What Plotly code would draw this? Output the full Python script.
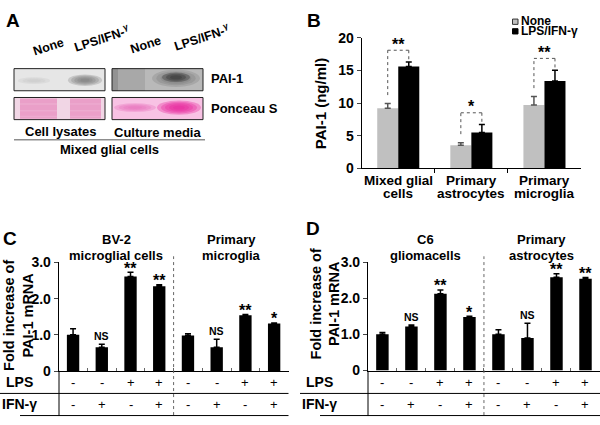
import plotly.graph_objects as go

W, H = 600, 425
FONT = "Liberation Sans, Arial, Helvetica, sans-serif"

# ---------------- data ----------------
# Panel B: PAI-1 secreted (ng/ml)
b_categories = ["Mixed glial\ncells", "Primary\nastrocytes", "Primary\nmicroglia"]
b_none = [9.2, 3.55, 9.7]
b_none_err = [0.73, 0.4, 1.3]
b_lps = [15.6, 5.5, 13.4]
b_lps_err = [0.7, 1.22, 1.65]
b_sig = ["**", "*", "**"]
b_yticks = [0, 5, 10, 15, 20]

# Panel C / D: fold increase of PAI-1 mRNA
lps_row = ["-", "-", "+", "+", "-", "-", "+", "+"]
ifn_row = ["-", "+", "-", "+", "-", "+", "-", "+"]
c_groups = ["BV-2\nmicroglial cells", "Primary\nmicroglia"]
c_vals = [1.0, 0.66, 2.61, 2.34, 0.98, 0.66, 1.54, 1.31]
c_err = [0.17, 0.08, 0.12, 0.04, 0.05, 0.22, 0.02, 0.02]
c_sig = ["", "NS", "**", "**", "", "NS", "**", "*"]
d_groups = ["C6\ngliomacells", "Primary\nastrocytes"]
d_vals = [1.0, 1.22, 2.12, 1.48, 1.0, 0.9, 2.58, 2.54]
d_err = [0.05, 0.04, 0.11, 0.02, 0.13, 0.41, 0.10, 0.03]
d_sig = ["", "NS", "**", "*", "", "NS", "**", "**"]
cd_yticks = [0, 1, 2, 3]
cd_yticktext = ["0", "1.0", "2.0", "3.0"]

# ---------------- helpers ----------------
def px(x):
    return x / W

def py(y):
    return 1 - y / H

shapes = []
annos = []

def rect(x0, y0, x1, y1, fill, line=None, lw=1, op=1.0, kind="rect"):
    shapes.append(dict(type=kind, xref="paper", yref="paper",
                       x0=px(x0), x1=px(x1), y0=py(y1), y1=py(y0),
                       fillcolor=fill, opacity=op,
                       line=dict(color=line if line else "rgba(0,0,0,0)", width=lw if line else 0),
                       layer="above"))

def pline(x0, y0, x1, y1, color="black", width=1, dash="solid"):
    shapes.append(dict(type="line", xref="paper", yref="paper",
                       x0=px(x0), x1=px(x1), y0=py(y0), y1=py(y1),
                       line=dict(color=color, width=width, dash=dash)))

def text(x, y, t, size=13, bold=True, angle=0, xanchor="center", yanchor="middle",
         xref="paper", yref="paper", yshift=0, color="black"):
    annos.append(dict(x=px(x) if xref == "paper" else x,
                      y=py(y) if yref == "paper" else y,
                      xref=xref, yref=yref, text=t, showarrow=False,
                      textangle=angle, xanchor=xanchor, yanchor=yanchor, yshift=yshift,
                      font=dict(family=FONT, size=size, color=color,
                                weight="bold" if bold else "normal")))

def blob(x0, y0, x1, y1, color, steps=5, op=0.22):
    cx, cy = (x0 + x1) / 2, (y0 + y1) / 2
    hw, hh = (x1 - x0) / 2, (y1 - y0) / 2
    for k in range(steps):
        f = 1 - k / (steps + 0.5)
        rect(cx - hw * f, cy - hh * f, cx + hw * f, cy + hh * f, color, op=op, kind="circle")

fig = go.Figure()

# ---------------- Panel A (blot illustration) ----------------
text(13, 13, "A", size=19)
text(48, 41, "None", size=12.5, angle=-18)
text(101, 31, "LPS/IFN-<sup>γ</sup>", size=12.5, angle=-18)
text(145, 38, "None", size=12.5, angle=-18)
text(201, 30, "LPS/IFN-<sup>γ</sup>", size=12.5, angle=-18)

# PAI-1 cell lysates
rect(14, 63, 105, 86, "#e6e6e6")
blob(18, 72, 50, 79, "#c8c8c8", steps=3, op=0.35)
blob(68, 69, 102, 81, "#777777", steps=5, op=0.28)
rect(14, 63, 105, 86, "rgba(0,0,0,0)", line="#222", lw=1)
# PAI-1 culture media
rect(112, 63, 203, 86, "#b9b9b9")
rect(112, 63, 145, 86, "#a4a4a4", op=0.8)
rect(112, 63, 118, 86, "#8c8c8c", op=0.8)
blob(152, 64, 200, 82, "#6a6a6a", steps=5, op=0.22)
blob(162, 67, 190, 77, "#333333", steps=3, op=0.35)
rect(112, 63, 203, 86, "rgba(0,0,0,0)", line="#222", lw=1)
text(209, 73, "PAI-1", size=13, xanchor="left")

# Ponceau S cell lysates
rect(14, 93, 105, 116, "#f1d6e5")
rect(20, 94, 57, 115, "#ea9fc8")
rect(70, 94, 101, 115, "#ea9fc8")
for yy in (99, 106, 112):
    rect(20, yy, 57, yy + 1.5, "#f2c0dc", op=0.35)
    rect(70, yy, 101, yy + 1.5, "#f2c0dc", op=0.35)
rect(14, 93, 105, 116, "rgba(0,0,0,0)", line="#222", lw=1)
# Ponceau S culture media
rect(112, 93, 203, 116, "#f8c2e4")
blob(114, 99, 156, 108, "#e872bc", steps=4, op=0.35)
blob(157, 96, 201, 111, "#e8289e", steps=5, op=0.35)
rect(112, 93, 203, 116, "rgba(0,0,0,0)", line="#222", lw=1)
text(209, 104, "Ponceau S", size=13, xanchor="left")

text(61, 128, "Cell lysates", size=13)
text(158, 129, "Culture media", size=13)
pline(14, 137, 205, 137, color="#555", width=1)
text(110, 147, "Mixed glial cells", size=13)

# ---------------- Panel B ----------------
text(314, 13, "B", size=19)
bx = list(range(len(b_categories)))
bw = 0.2877
fig.add_trace(go.Bar(x=bx, y=b_none, width=bw, offset=-bw, marker=dict(color="#c0c0c0", line=dict(width=0)),
                     error_y=dict(type="data", array=b_none_err, arrayminus=[0] * 3, symmetric=False,
                                  color="#555", thickness=1.5, width=3),
                     xaxis="x", yaxis="y", name="None", showlegend=False))
fig.add_trace(go.Bar(x=bx, y=b_lps, width=bw, offset=0, marker=dict(color="black", line=dict(width=0)),
                     error_y=dict(type="data", array=b_lps_err, arrayminus=[0] * 3, symmetric=False,
                                  color="black", thickness=1.5, width=3),
                     xaxis="x", yaxis="y", name="LPS/IFN-γ", showlegend=False))
for i in bx:
    xl, xr = i - bw / 2, i + bw / 2
    top = max(b_none[i] + b_none_err[i], b_lps[i] + b_lps_err[i]) + 1.8
    lbot = b_none[i] + b_none_err[i] + 1.3
    rbot = b_lps[i] + b_lps_err[i] + 0.1
    for (x0, y0, x1, y1) in ((xl, lbot, xl, top), (xl, top, xr, top), (xr, top, xr, rbot)):
        shapes.append(dict(type="line", xref="x", yref="y", x0=x0, x1=x1, y0=y0, y1=y1,
                           line=dict(color="#555", width=1, dash="dot")))
    text(i, top, b_sig[i], size=16, xref="x", yref="y", yshift=6)
    for k, line in enumerate(b_categories[i].split("\n")):
        text(i, 179 + 14 * k, line, size=13.5, xref="x")
text(320, 100, "PAI-1 (ng/ml)", size=15, angle=-90)
# legend
rect(512.5, 11.5, 518, 17, "#c0c0c0", line="#333", lw=1)
text(519, 14, "None", size=12, xanchor="left")
rect(512.5, 21.5, 518, 27, "black", line="black", lw=1)
text(519, 24, "LPS/IFN-γ", size=12, xanchor="left")

# ---------------- Panels C and D ----------------
def cd_panel(letter, lpos, vals, errs, sigs, groups, xa, ya, ylab_x, ylab_y, x_left, x_right, line_x0, bot_x0):
    text(lpos[0], lpos[1], letter, size=19)
    xs = list(range(len(vals)))
    fig.add_trace(go.Bar(x=xs, y=vals, width=0.43, marker=dict(color="black", line=dict(width=0)),
                         error_y=dict(type="data", array=errs, arrayminus=[0] * len(errs), symmetric=False,
                                      color="black", thickness=1.5, width=3),
                         xaxis=xa, yaxis=ya, showlegend=False))
    for i in xs:
        if sigs[i]:
            ns = sigs[i] == "NS"
            text(i, vals[i] + errs[i], sigs[i], size=10.5 if ns else 16, xref=xa, yref=ya,
                 yshift=8 if ns else 4)
        text(i, 389, lps_row[i], size=13, bold=False, xref=xa)
        text(i, 412, ifn_row[i], size=13, bold=False, xref=xa)
    for g, label in enumerate(groups):
        for k, line in enumerate(label.split("\n")):
            text(1.5 + 4 * g, 241 + 16 * k, line, size=13, xref=xa)
    shapes.append(dict(type="line", xref=xa, yref="paper", x0=3.5, x1=3.5, y0=py(423), y1=py(258),
                       line=dict(color="#666", width=1, dash="dot")))
    text(ylab_x, ylab_y, "Fold increase of<br>PAI-1 mRNA", size=14.5, angle=-90)
    text(line_x0 + 19, 389, "LPS", size=14)
    text(line_x0 + 19, 412, "IFN-γ", size=14)
    pline(x_left, 377, x_left, 424, width=1)
    pline(line_x0, 400.5, x_right, 400.5, width=1)
    pline(bot_x0, 423.5, x_right, 423.5, width=1)

cd_panel("C", (10, 240), c_vals, c_err, c_sig, c_groups, "x2", "y2", 19, 320, 59, 288.5, 0, 20)
cd_panel("D", (313, 229), d_vals, d_err, d_sig, d_groups, "x3", "y3", 325, 308, 368, 600, 300, 320)

# ---------------- layout ----------------
axis_common = dict(showline=True, linecolor="black", linewidth=1, showgrid=False, zeroline=False)
tickfont = dict(family=FONT, size=14, color="black", weight="bold")

fig.update_layout(
    width=W, height=H, margin=dict(l=0, r=0, t=0, b=0),
    paper_bgcolor="white", plot_bgcolor="rgba(0,0,0,0)",
    barmode="overlay", showlegend=False,
    xaxis=dict(**axis_common, domain=[361.7 / W, 581 / W], range=[-0.5, 2.5], anchor="y",
               showticklabels=False, ticks="",
               minor=dict(tickvals=[0.5, 1.5], ticks="outside", ticklen=4, tickcolor="black")),
    yaxis=dict(**axis_common, domain=[py(166.7), py(31)], range=[0, 20], anchor="x",
               tickvals=b_yticks, ticks="outside", ticklen=4, tickfont=tickfont),
    xaxis2=dict(**axis_common, domain=[58.7 / W, 288.5 / W], range=[-0.5, 7.5], anchor="y2",
                showticklabels=False, ticks="",
                minor=dict(tickvals=[0.5, 1.5, 2.5, 3.5, 4.5, 5.5, 6.5], ticks="inside", ticklen=3,
                           tickcolor="#666")),
    yaxis2=dict(**axis_common, domain=[py(377.3), py(264.3)], range=[0, 3], anchor="x2",
                tickvals=cd_yticks, ticktext=cd_yticktext, ticks="outside", ticklen=4, tickfont=tickfont),
    xaxis3=dict(**axis_common, domain=[367.9 / W, 1.0], range=[-0.5, 7.5], anchor="y3",
                showticklabels=False, ticks="",
                minor=dict(tickvals=[0.5, 1.5, 2.5, 3.5, 4.5, 5.5, 6.5], ticks="inside", ticklen=3,
                           tickcolor="#666")),
    yaxis3=dict(**axis_common, domain=[py(376.7), py(264)], range=[0, 3], anchor="x3",
                tickvals=cd_yticks, ticktext=cd_yticktext, ticks="outside", ticklen=4, tickfont=tickfont),
    shapes=shapes, annotations=annos,
)

fig.write_html("out.html", config={"displayModeBar": False},
               post_script="document.body.style.margin='0';document.body.style.padding='0';"
                           "document.body.style.overflow='hidden';")
